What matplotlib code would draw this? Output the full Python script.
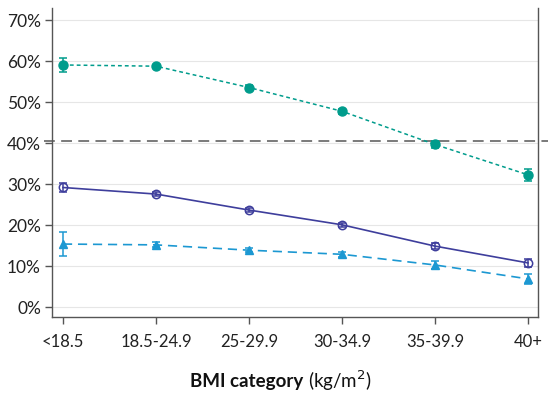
import matplotlib
matplotlib.use("Agg")
import matplotlib.pyplot as plt

categories = ["<18.5", "18.5-24.9", "25-29.9", "30-34.9", "35-39.9", "40+"]

teal_vals = [59.1, 58.8, 53.6, 47.8, 39.7, 32.3]
teal_err = [1.6, 0.4, 0.5, 0.6, 0.8, 1.5]

navy_vals = [29.2, 27.6, 23.7, 20.1, 14.9, 10.8]
navy_err = [1.2, 0.4, 0.4, 0.5, 0.7, 1.0]

blue_vals = [15.4, 15.2, 13.9, 12.9, 10.3, 6.9]
blue_err = [3.0, 0.6, 0.5, 0.6, 1.0, 1.3]

ref_value = 40.6
y_ticks = [0, 10, 20, 30, 40, 50, 60, 70]
y_tick_labels = [f"{v}%" for v in y_ticks]

plt.rcParams['font.family'] = ['Lato', 'DejaVu Sans']

fig = plt.figure(figsize=(5.51, 3.95), dpi=100)
ax = fig.add_axes([52/551, 1-317/395, (538-52)/551, (317-8)/395])

x = list(range(len(categories)))

teal = "#009C8C"
navy = "#3E3E9C"
blue = "#1C98D2"

for v in y_ticks:
    ax.axhline(v, color="#E6E6E6", lw=0.8, zorder=0)

ax.plot([-0.2, 5.22], [ref_value, ref_value], color="#707070", lw=1.3,
        dashes=(6, 3.5), clip_on=False, zorder=1)

ax.errorbar(x, teal_vals, yerr=teal_err, color=teal, lw=1.1, dashes=(2.5, 2),
            marker="o", ms=6.5, mfc=teal, mec=teal, capsize=3, elinewidth=1.1,
            capthick=1.1, zorder=3)
ax.errorbar(x, navy_vals, yerr=navy_err, color=navy, lw=1.2, ls="-",
            marker="o", ms=6, mfc="none", mec=navy, mew=1.1, capsize=3,
            elinewidth=1.1, capthick=1.1, zorder=3)
ax.errorbar(x, blue_vals, yerr=blue_err, color=blue, lw=1.2, dashes=(5.5, 3.5),
            marker="^", ms=5.5, mfc=blue, mec=blue, capsize=3, elinewidth=1.1,
            capthick=1.1, zorder=3)

ax.set_xlim(-0.118, 5.108)
ax.set_ylim(-2.4, 73)
ax.set_xticks(x)
ax.set_xticklabels(categories, fontsize=12)
ax.set_yticks(y_ticks)
ax.set_yticklabels(y_tick_labels, fontsize=12.5)

for s in ["left", "bottom", "right"]:
    ax.spines[s].set_color("#555555")
    ax.spines[s].set_linewidth(1.0)
ax.spines["top"].set_visible(False)
ax.tick_params(axis="both", direction="out", length=5, width=1, color="#555555",
               labelcolor="#222222")
ax.tick_params(axis="x", pad=7)
ax.tick_params(axis="y", pad=3)

fig.text(303/551, 1-381/395, "BMI category", fontsize=13.5, fontweight="bold",
         ha="right", va="center", color="#111111")
fig.text(308/551, 1-381/395, "(kg/m$^{2}$)", fontsize=13.5, ha="left", va="center",
         color="#111111")

fig.savefig("out.png", dpi=100)
